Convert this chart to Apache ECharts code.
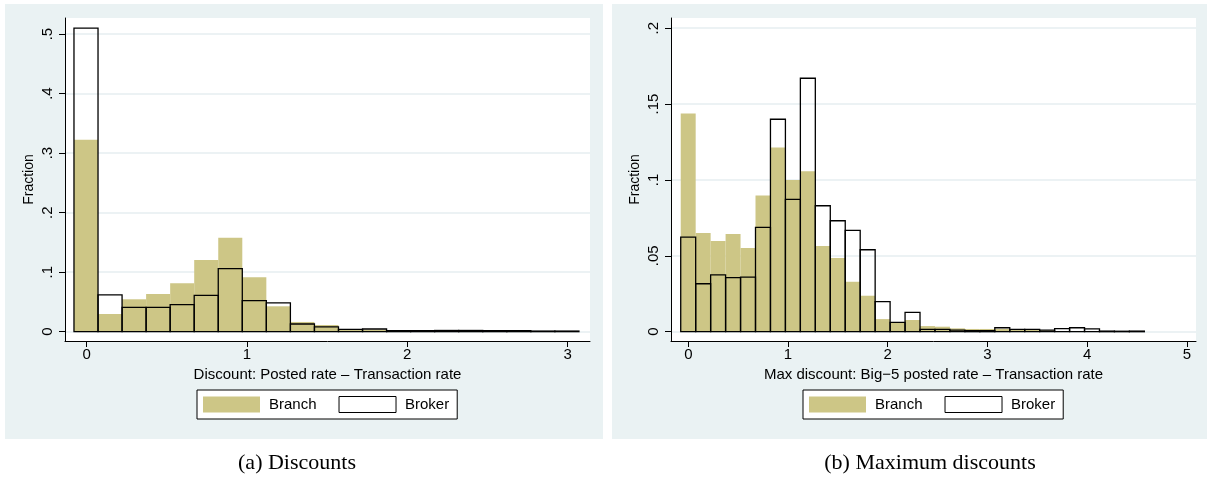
<!DOCTYPE html>
<html>
<head>
<meta charset="utf-8">
<script src="https://cdn.jsdelivr.net/npm/echarts@6/dist/echarts.min.js"></script>
<style>
html, body { margin: 0; padding: 0; background: #fff; }
.panel { position: absolute; top: 4px; height: 435px; background: #eaf2f3; }
#chart { position: absolute; left: 0; top: 0; width: 1207px; height: 477px; }
</style>
</head>
<body>
<div class="panel" style="left:5px;width:598px"></div>
<div class="panel" style="left:612px;width:595px"></div>
<div id="chart"></div>
<script>
// (a) Discounts : histogram bins of width 0.15
var binStartA = -0.079;
var binWidthA = 0.15;
var branchA = [0.3225, 0.0297, 0.0544, 0.0634, 0.0813, 0.1206, 0.1576, 0.0914, 0.0426, 0.0163, 0.0112,
               0.004, 0.0034, 0.0017, 0.002, 0.002, 0.0028, 0.0025, 0.002, 0.0006, 0.0005];
var brokerA = [0.510, 0.0617, 0.0409, 0.0409, 0.0454, 0.0611, 0.106, 0.0522, 0.0482, 0.0129, 0.0079,
               0.004, 0.0045, 0.0017, 0.0017, 0.002, 0.002, 0.0017, 0.0017, 0.001, 0.001];
var xTicksA = [0, 1, 2, 3];
var yTicksA = [0, 0.1, 0.2, 0.3, 0.4, 0.5];

// (b) Maximum discounts
var binStartB = -0.076;
var binWidthB = 0.15;
var branchB = [0.1438, 0.065, 0.0597, 0.0643, 0.0551, 0.0898, 0.1214, 0.0999, 0.1058, 0.0564, 0.0485,
               0.0329, 0.0237, 0.0083, 0.006, 0.0077, 0.0037, 0.0033, 0.0022, 0.0018, 0.0018, 0.0018,
               0.0013, 0.0015, 0.0009, 0.0002, 0.0002, 0.0002, 0, 0, 0];
var brokerB = [0.0623, 0.0316, 0.0375, 0.0356, 0.036, 0.0687, 0.140, 0.0872, 0.167, 0.083, 0.0731,
               0.0667, 0.054, 0.0198, 0.0061, 0.0127, 0.0015, 0.0015, 0.0011, 0.0007, 0.0007, 0.0026,
               0.0015, 0.0015, 0.0011, 0.002, 0.0026, 0.0018, 0.0004, 0.0003, 0.0004];
var xTicksB = [0, 1, 2, 3, 4, 5];
var yTicksB = [0, 0.05, 0.1, 0.15, 0.2];

var SAND = '#cdc686';
var FONT = 'Liberation Sans, Arial, sans-serif';

/**
 * 把直方图高度转成 [左边界, 右边界, 高度]
 */
function toBins(start, width, vals) {
	return vals.map(function (v, i) {
		return [start + i * width, start + (i + 1) * width, v];
	});
}

/**
 * 画一根直方柱
 */
function histItem(params, api) {
	var top = api.coord([api.value(0), api.value(2)]);
	var base = api.coord([api.value(1), 0]);
	return {
		type : 'rect',
		shape : { x : top[0], y : top[1], width : base[0] - top[0], height : base[1] - top[1] },
		style : api.style()
	};
}

function stataLabel(v) {
	return v === 0 ? '0' : String(v).replace(/^0/, '');
}

function xAxisOpt(idx, min, max, ticks, name) {
	return {
		gridIndex : idx, type : 'value', min : min, max : max,
		name : name, nameLocation : 'middle', nameGap : 25,
		nameTextStyle : { fontSize : 15, color : '#000', fontFamily : FONT },
		axisLine : { show : true, onZero : false, lineStyle : { color : '#000', width : 1 } },
		axisTick : { show : true, length : 6, customValues : ticks, lineStyle : { color : '#000' } },
		axisLabel : { customValues : ticks, fontSize : 15, color : '#000', margin : 6, fontFamily : FONT },
		splitLine : { show : false }
	};
}

function yAxisOpt(idx, min, max, ticks) {
	return {
		gridIndex : idx, type : 'value', min : min, max : max,
		name : 'Fraction', nameLocation : 'middle', nameRotate : 90, nameGap : 29,
		nameTextStyle : { fontSize : 14, color : '#000', fontFamily : FONT },
		axisLine : { show : true, onZero : false, lineStyle : { color : '#000', width : 1 } },
		axisTick : { show : true, length : 6, customValues : ticks, lineStyle : { color : '#000' } },
		axisLabel : { customValues : ticks, rotate : 90, fontSize : 15, color : '#000', margin : 10,
					  fontFamily : FONT, formatter : stataLabel },
		splitLine : { show : true, lineStyle : { color : '#e6eef0', width : 1.5 } }
	};
}

function legendOpt(left) {
	return {
		left : left, top : 390, orient : 'horizontal', icon : 'rect',
		itemWidth : 57, itemHeight : 16, itemGap : 22,
		padding : [6, 8, 6, 6],
		backgroundColor : '#fff', borderColor : '#000', borderWidth : 1,
		selectedMode : false,
		textStyle : { fontSize : 15, color : '#000', fontFamily : FONT, padding : [0, 0, 0, 4] },
		data : [
			{ name : 'Branch', itemStyle : { color : SAND, borderWidth : 0 } },
			{ name : 'Broker', itemStyle : { color : '#fff', borderColor : '#000', borderWidth : 1 } }
		]
	};
}

function histSeries(name, idx, data) {
	var broker = name === 'Broker';
	return {
		name : name, type : 'custom', xAxisIndex : idx, yAxisIndex : idx,
		renderItem : histItem,
		encode : { x : [0, 1], y : 2 },
		itemStyle : broker
			? { color : 'rgba(0,0,0,0)', borderColor : '#000', borderWidth : 1.3 }
			: { color : SAND, borderWidth : 0 },
		data : data
	};
}

var myChart = echarts.init(document.getElementById('chart'), null, { renderer : 'canvas' });

var option = {
	animation : false,
	backgroundColor : 'transparent',
	grid : [
		{ left : 65, top : 18, width : 525, height : 323, show : true, backgroundColor : '#fff', borderWidth : 0 },
		{ left : 671, top : 18, width : 525, height : 323, show : true, backgroundColor : '#fff', borderWidth : 0 }
	],
	xAxis : [
		xAxisOpt(0, -0.135, 3.14, xTicksA, 'Discount: Posted rate \u2013 Transaction rate'),
		xAxisOpt(1, -0.1735, 5.092, xTicksB, 'Max discount: Big\u22125 posted rate \u2013 Transaction rate')
	],
	yAxis : [
		yAxisOpt(0, -0.0157, 0.527, yTicksA),
		yAxisOpt(1, -0.00613, 0.2067, yTicksB)
	],
	legend : [legendOpt(197), legendOpt(803)],
	graphic : [
		{ type : 'text', x : 297, y : 463,
		  style : { text : '(a) Discounts', fontSize : 22, fontFamily : 'Liberation Serif, serif',
					fill : '#000', align : 'center', verticalAlign : 'middle' } },
		{ type : 'text', x : 930, y : 463,
		  style : { text : '(b) Maximum discounts', fontSize : 22, fontFamily : 'Liberation Serif, serif',
					fill : '#000', align : 'center', verticalAlign : 'middle' } }
	],
	series : [
		histSeries('Branch', 0, toBins(binStartA, binWidthA, branchA)),
		histSeries('Broker', 0, toBins(binStartA, binWidthA, brokerA)),
		histSeries('Branch', 1, toBins(binStartB, binWidthB, branchB)),
		histSeries('Broker', 1, toBins(binStartB, binWidthB, brokerB))
	]
};

myChart.setOption(option);
</script>
</body>
</html>
